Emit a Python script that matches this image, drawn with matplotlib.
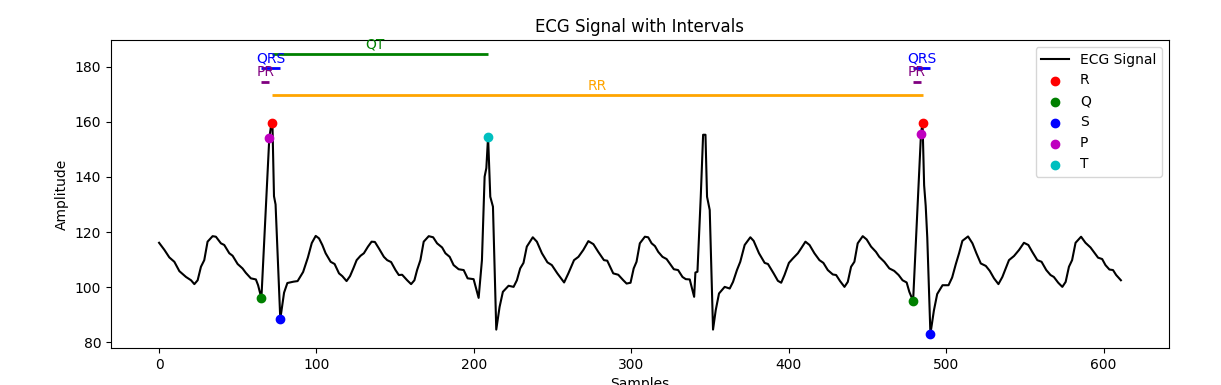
import matplotlib
matplotlib.use('Agg')
import matplotlib.pyplot as plt

# traced ECG signal (sample index, amplitude)
samples = [0, 3.4, 6.5, 9.7, 12.9, 17.1, 20.3, 22.4, 24.5, 26.6, 28.7, 30.8, 34, 36.1, 39.3, 41.4, 44.6, 46.7,
           49.9, 53, 55.1, 58.3, 61.5, 62.9, 65, 66, 67, 68, 69, 70, 71, 72, 73, 74, 75, 76, 77, 79.4, 81.5,
           85.5, 88, 91.5, 94.5, 97, 99.5, 101.6, 103.7, 105.8, 109, 111.5, 114.3, 116.4, 119.1, 121.3, 123.4,
           125.5, 128, 130.1, 132.7, 135, 137.1, 139.6, 142.8, 144.9, 147.4, 150.2, 152.3, 154.4, 157.6, 160.1,
           162.2, 163.9, 166, 168.1, 171.3, 174.1, 176.6, 179.8, 181.9, 184.6, 187.1, 190.3, 193.5, 196, 199.8,
           203, 205.1, 206.8, 207.9, 209, 210.4, 212.1, 214.2, 216.3, 218.4, 222, 225.2, 227.3, 229.4, 231.5,
           233.6, 237.4, 240, 243.2, 246.7, 249.5, 253, 257.3, 260, 263.6, 266.4, 269.5, 272.7, 275.9, 279,
           282.6, 284.7, 288.5, 291.7, 294.9, 297, 299.5, 301.5, 303.3, 305.4, 308.6, 310.7, 312.9, 315, 317.1,
           319.8, 322.4, 324.4, 327, 329.7, 332.5, 334.6, 337.1, 339.9, 340.7, 342, 344.1, 345.6, 347.1, 348.1,
           349.8, 351.9, 353.6, 355.7, 359.3, 362.5, 364.6, 367.1, 369.2, 372, 375.6, 377.7, 381.1, 384.7,
           386.8, 390.4, 393.1, 395.2, 397.3, 400.1, 402.6, 405.8, 407.9, 410.6, 413.2, 416.3, 419.5, 422,
           424.8, 428, 430.1, 432.6, 435.4, 437.5, 439.6, 441.7, 443.8, 447, 449.5, 452.3, 455.4, 457.5, 460.7,
           463.9, 467, 469.8, 472.3, 474.9, 476.6, 479, 480, 481, 482, 483, 484, 485, 486, 487, 488, 489, 490,
           492.2, 494.3, 497.7, 501.5, 503.8, 506.1, 508.2, 510.3, 513.9, 516.7, 519.2, 522, 525.2, 527.7,
           530.4, 533.2, 535.7, 537.8, 539.9, 543.1, 546.3, 549.4, 552.2, 554.7, 557.9, 560.6, 563.6, 566.3,
           568.4, 571.2, 573.8, 575.9, 578, 580, 582.2, 585.7, 588.5, 591.7, 593.8, 596.5, 599.1, 601.2, 603.7,
           606, 608, 611]
ecg = [116.1, 113.5, 110.8, 109.2, 105.8, 103.7, 102.5, 101.1, 102.5, 107.4, 109.8, 116.5, 118.5, 118.3, 115.9,
       115.3, 112.3, 111.4, 108.4, 106.8, 105.2, 103.2, 102.8, 100.7, 96, 107.6, 119.2, 130.8, 142.4, 154, 158,
       159.6, 133, 130, 116, 102, 88.4, 98, 101.5, 102, 102.2, 105.5, 110.7, 116, 118.6, 117.7, 115.3, 112.3,
       109.2, 108.4, 105, 104, 102.2, 104, 106.8, 109.8, 111.4, 112.3, 114.7, 116.5, 116.4, 114.1, 111, 109.8,
       109.1, 106.2, 104.4, 104.5, 102.5, 101.1, 102.5, 106.2, 109.8, 116.5, 118.5, 118.1, 115.9, 114.4, 112.3,
       111, 108, 106.5, 106.2, 103.2, 102.9, 96.1, 109.8, 140.1, 143.2, 154.6, 132.8, 129.2, 84.6, 92.8, 98.3,
       100.5, 100.1, 102.5, 106.8, 108.8, 114.7, 118.1, 116.5, 112.3, 109, 108, 105, 101.7, 105, 109.8, 111,
       113.5, 116.7, 115.6, 112.8, 109.8, 109.6, 105, 104.5, 102.5, 101.3, 101.6, 106.8, 109.2, 115.9, 118.3,
       118.1, 115.9, 114.9, 112.8, 111, 110.2, 108.6, 106.5, 106.2, 103.7, 102.9, 102.8, 96.5, 105.3, 105.6,
       132.8, 155.3, 155.3, 132.8, 128, 84.6, 91.6, 97.7, 100.1, 99.5, 101.9, 106.2, 109.2, 115.3, 118.1, 116.8,
       112.3, 108.8, 108.4, 105, 102.3, 101.6, 104.4, 108.8, 110.4, 112.3, 114.1, 116.5, 115.3, 112.3, 109.8,
       108.8, 106.2, 104.6, 104.4, 102.2, 100.1, 101.9, 107.4, 109.2, 115.9, 118.5, 117.3, 114.7, 112.8, 111,
       109.2, 106.8, 105.9, 104.4, 102.5, 101.7, 98.3, 95, 107.1, 119.2, 131.3, 143.4, 155.6, 159.6, 137, 129.5,
       118, 100.5, 83, 91.5, 97.5, 100.7, 100.7, 103.5, 108.3, 112.3, 116.8, 118.4, 115.9, 112.3, 108.6, 107.7,
       105.9, 103.2, 101.1, 103.7, 106.8, 109.8, 111.3, 113.5, 116.1, 115.3, 112.8, 109.8, 109.2, 106.2, 104.4,
       103.7, 101.6, 100.1, 101.9, 107.4, 109.8, 116.1, 118.3, 116.1, 114.4, 112.8, 110.7, 110.2, 108, 106.4,
       106.2, 104.4, 102.5]

# detected points
r_idx, r_val = [72, 485], [159.6, 159.6]
q_idx, q_val = [65, 479], [96.0, 95.0]
s_idx, s_val = [77, 490], [88.4, 83.0]
p_idx, p_val = [70, 484], [154.0, 155.6]
t_idx, t_val = [209], [154.6]

fig, ax = plt.subplots(figsize=(12.21, 3.85), dpi=100)
fig.subplots_adjust(left=0.0909, right=0.9574, top=0.8961, bottom=0.0961)

ax.plot(samples, ecg, color='black', linewidth=1.5, label='ECG Signal')
ax.scatter(r_idx, r_val, color='r', label='R', zorder=3)
ax.scatter(q_idx, q_val, color='g', label='Q', zorder=3)
ax.scatter(s_idx, s_val, color='b', label='S', zorder=3)
ax.scatter(p_idx, p_val, color='m', label='P', zorder=3)
ax.scatter(t_idx, t_val, color='c', label='T', zorder=3)

top = max(r_val)

# intervals drawn above the signal
for i in range(len(r_idx)):
    q, s, p = q_idx[i], s_idx[i], p_idx[i]
    ax.hlines(top + 20, q, s, colors='blue', linewidth=2)
    ax.text((q + s) / 2, top + 21, 'QRS', color='blue', ha='center', va='bottom')
    ax.hlines(top + 15, q, p, colors='purple', linewidth=2)
    ax.text((q + p) / 2, top + 16, 'PR', color='purple', ha='center', va='bottom')

ax.hlines(top + 10, r_idx[0], r_idx[1], colors='orange', linewidth=2)
ax.text((r_idx[0] + r_idx[1]) / 2, top + 11, 'RR', color='orange', ha='center', va='bottom')
ax.hlines(top + 25, r_idx[0], t_idx[0], colors='green', linewidth=2)
ax.text((q_idx[0] + t_idx[0]) / 2, top + 26, 'QT', color='green', ha='center', va='bottom')

ax.set_title('ECG Signal with Intervals')
ax.set_xlabel('Samples')
ax.set_ylabel('Amplitude')
ax.legend(loc='upper right')

plt.savefig('out.png')
